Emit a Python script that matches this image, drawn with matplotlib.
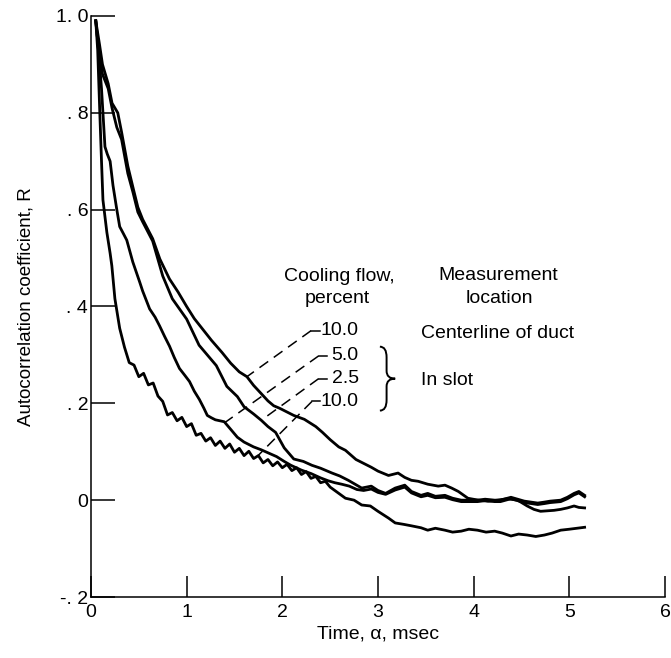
import numpy as np
import matplotlib
matplotlib.use("Agg")
import matplotlib.pyplot as plt
from matplotlib.path import Path
from matplotlib.patches import PathPatch

plt.rcParams['font.family'] = ['Liberation Sans', 'DejaVu Sans']

# autocorrelation traces (time in msec, coefficient R)
centerline_10 = np.array([
    (0.05, 0.99), (0.09, 0.94), (0.12, 0.90), (0.18, 0.86), (0.22, 0.82), (0.28, 0.80),
    (0.32, 0.76), (0.385, 0.69), (0.44, 0.645), (0.49, 0.605), (0.54, 0.58), (0.645, 0.54),
    (0.72, 0.498), (0.82, 0.457), (0.91, 0.43), (1.0, 0.40), (1.08, 0.375), (1.16, 0.355),
    (1.26, 0.33), (1.37, 0.305), (1.46, 0.283), (1.55, 0.265), (1.63, 0.255), (1.70, 0.237),
    (1.78, 0.22), (1.85, 0.205), (1.91, 0.195), (1.97, 0.19), (2.05, 0.182), (2.12, 0.175),
    (2.23, 0.167), (2.35, 0.152), (2.42, 0.14), (2.50, 0.125), (2.59, 0.11), (2.66, 0.103),
    (2.77, 0.084), (2.83, 0.078), (2.93, 0.068), (3.0, 0.06), (3.11, 0.051), (3.21, 0.056),
    (3.28, 0.047), (3.35, 0.041), (3.42, 0.039), (3.52, 0.033), (3.63, 0.029), (3.70, 0.031),
    (3.77, 0.025), (3.84, 0.018), (3.94, 0.004), (4.05, 0.0), (4.15, -0.002), (4.25, 0.0),
    (4.35, 0.003), (4.46, 0.0), (4.56, -0.012), (4.63, -0.019), (4.70, -0.023), (4.77, -0.022),
    (4.84, -0.021), (4.91, -0.019), (4.98, -0.016), (5.05, -0.012), (5.10, -0.015), (5.16, -0.016),
]).T

slot_5 = np.array([
    (0.05, 0.99), (0.07, 0.95), (0.09, 0.90), (0.11, 0.85), (0.125, 0.80), (0.146, 0.73),
    (0.17, 0.715), (0.20, 0.70), (0.23, 0.65), (0.27, 0.60), (0.30, 0.565), (0.34, 0.55),
    (0.374, 0.537), (0.437, 0.492), (0.51, 0.45), (0.54, 0.432), (0.613, 0.395), (0.67, 0.378),
    (0.717, 0.36), (0.77, 0.338), (0.821, 0.318), (0.87, 0.295), (0.925, 0.272), (0.98, 0.258),
    (1.03, 0.245), (1.08, 0.225), (1.133, 0.208), (1.18, 0.19), (1.216, 0.175), (1.26, 0.17),
    (1.30, 0.166), (1.393, 0.162), (1.466, 0.145), (1.53, 0.13), (1.60, 0.12), (1.70, 0.11),
    (1.78, 0.104), (1.86, 0.097), (1.94, 0.09), (2.02, 0.08), (2.09, 0.072), (2.2, 0.062),
    (2.3, 0.055), (2.4, 0.046), (2.48, 0.04), (2.55, 0.036), (2.62, 0.033), (2.70, 0.029),
    (2.78, 0.022), (2.85, 0.02), (2.93, 0.023), (3.0, 0.016), (3.08, 0.012), (3.18, 0.021),
    (3.28, 0.027), (3.35, 0.015), (3.45, 0.007), (3.52, 0.01), (3.60, 0.005), (3.70, 0.006),
    (3.78, 0.001), (3.87, -0.003), (3.97, -0.003), (4.04, -0.003), (4.12, -0.001), (4.22, -0.003),
    (4.28, -0.003), (4.39, 0.003), (4.46, -0.001), (4.53, -0.005), (4.60, -0.007), (4.67, -0.009),
    (4.74, -0.007), (4.80, -0.005), (4.91, -0.003), (4.98, 0.003), (5.05, 0.011), (5.10, 0.015),
    (5.16, 0.007),
]).T

slot_2_5 = np.array([
    (0.05, 0.99), (0.08, 0.93), (0.12, 0.88), (0.18, 0.85), (0.22, 0.81), (0.27, 0.77),
    (0.32, 0.745), (0.385, 0.675), (0.44, 0.635), (0.49, 0.595), (0.54, 0.575), (0.645, 0.535),
    (0.75, 0.463), (0.85, 0.416), (1.0, 0.374), (1.13, 0.32), (1.31, 0.278), (1.42, 0.235),
    (1.53, 0.214), (1.60, 0.193), (1.70, 0.178), (1.78, 0.165), (1.85, 0.152), (1.93, 0.14),
    (2.02, 0.108), (2.12, 0.085), (2.22, 0.08), (2.31, 0.072), (2.40, 0.066), (2.52, 0.056),
    (2.60, 0.05), (2.69, 0.041), (2.76, 0.033), (2.83, 0.025), (2.93, 0.029), (3.0, 0.02),
    (3.08, 0.014), (3.18, 0.025), (3.28, 0.031), (3.35, 0.018), (3.45, 0.01), (3.52, 0.014),
    (3.60, 0.008), (3.70, 0.01), (3.78, 0.004), (3.87, 0.0), (3.97, 0.0), (4.04, 0.0),
    (4.12, 0.002), (4.22, 0.0), (4.28, 0.0), (4.39, 0.006), (4.46, 0.002), (4.53, -0.002),
    (4.60, -0.004), (4.67, -0.006), (4.74, -0.004), (4.80, -0.002), (4.91, 0.0), (4.98, 0.006),
    (5.05, 0.014), (5.10, 0.018), (5.16, 0.01),
]).T

slot_10 = np.array([
    (0.05, 0.99), (0.07, 0.93), (0.094, 0.79), (0.11, 0.70), (0.125, 0.62), (0.166, 0.553),
    (0.20, 0.51), (0.218, 0.484), (0.25, 0.416), (0.30, 0.355), (0.35, 0.316), (0.40, 0.284),
    (0.45, 0.279), (0.50, 0.255), (0.55, 0.262), (0.60, 0.238), (0.65, 0.242), (0.70, 0.215),
    (0.75, 0.204), (0.80, 0.176), (0.85, 0.181), (0.90, 0.164), (0.95, 0.171), (1.00, 0.152),
    (1.05, 0.158), (1.10, 0.134), (1.15, 0.138), (1.20, 0.122), (1.25, 0.129), (1.30, 0.113),
    (1.35, 0.122), (1.40, 0.107), (1.45, 0.116), (1.50, 0.099), (1.55, 0.107), (1.60, 0.092),
    (1.65, 0.101), (1.70, 0.086), (1.75, 0.092), (1.80, 0.077), (1.85, 0.084), (1.90, 0.071),
    (1.95, 0.079), (2.00, 0.067), (2.05, 0.074), (2.10, 0.061), (2.15, 0.067), (2.20, 0.053),
    (2.25, 0.059), (2.30, 0.045), (2.35, 0.049), (2.40, 0.036), (2.45, 0.039), (2.50, 0.027),
    (2.66, 0.004), (2.75, 0.0), (2.83, -0.01), (2.92, -0.012), (3.0, -0.023), (3.11, -0.037),
    (3.18, -0.047), (3.27, -0.05), (3.35, -0.053), (3.45, -0.057), (3.52, -0.062), (3.60, -0.058),
    (3.70, -0.062), (3.78, -0.066), (3.87, -0.064), (3.95, -0.06), (4.04, -0.062), (4.13, -0.066),
    (4.22, -0.064), (4.30, -0.068), (4.39, -0.074), (4.47, -0.07), (4.56, -0.072), (4.65, -0.075),
    (4.74, -0.072), (4.82, -0.068), (4.91, -0.062), (5.0, -0.06), (5.08, -0.058), (5.16, -0.056),
]).T

flow_labels = ["10.0", "5.0", "2.5", "10.0"]
curves = [centerline_10, slot_5, slot_2_5, slot_10]
# time at which each leader meets its curve
leader_t = [1.63, 1.40, 1.78, 1.74]

y_ticks = [-0.2, 0, 0.2, 0.4, 0.6, 0.8, 1.0]
y_ticklabels = ["-. 2", "0", ". 2", ". 4", ". 6", ". 8", "1. 0"]
x_ticks = [0, 1, 2, 3, 4, 5, 6]

fig = plt.figure(figsize=(6.71, 6.58), dpi=100)
ax = fig.add_axes([0.1356, 0.0927, 0.8554, 0.883])

for t, r in curves:
    ax.plot(t, r, color="black", lw=2.0, solid_joinstyle="round")

ax.set_xlim(0, 6)
ax.set_ylim(-0.2, 1.0)
ax.set_xticks(x_ticks)
ax.set_yticks(y_ticks)
ax.set_yticklabels(y_ticklabels)
ax.tick_params(axis="y", direction="in", length=17, width=1.1, pad=2, labelsize=14)
ax.tick_params(axis="x", direction="in", length=15, width=1.1, pad=5, labelsize=14)
for side in ["top", "right"]:
    ax.spines[side].set_visible(False)
for side in ["left", "bottom"]:
    ax.spines[side].set_linewidth(1.1)

ax.set_xlabel("Time, α, msec", fontsize=14, labelpad=3)
ax.set_ylabel("Autocorrelation coefficient, R", fontsize=13.5)
ax.yaxis.set_label_coords(-0.098, 0.5)

# key text
fs = 14
ax.text(2.60, 0.461, "Cooling flow,", ha="center", va="center", fontsize=fs)
ax.text(2.57, 0.416, "percent", ha="center", va="center", fontsize=fs)
ax.text(4.26, 0.463, "Measurement", ha="center", va="center", fontsize=fs)
ax.text(4.27, 0.416, "location", ha="center", va="center", fontsize=fs)
ax.text(3.45, 0.344, "Centerline of duct", ha="left", va="center", fontsize=fs)
ax.text(3.45, 0.248, "In slot", ha="left", va="center", fontsize=fs)

# thin brace grouping the in-slot entries
bx0, bx1, bxt = 3.02, 3.09, 3.18
by0, by1, bym = 0.185, 0.317, 0.251
brace = Path(
    [(bx0, by1), (bx1, by1), (bx1, by1 - 0.022), (bx1, bym + 0.016),
     (bx1, bym), (bxt, bym), (bx1, bym), (bx1, bym - 0.016),
     (bx1, by0 + 0.022), (bx1, by0), (bx0, by0)],
    [Path.MOVETO, Path.CURVE3, Path.CURVE3, Path.LINETO,
     Path.CURVE3, Path.CURVE3, Path.CURVE3, Path.CURVE3,
     Path.LINETO, Path.CURVE3, Path.CURVE3])
ax.add_patch(PathPatch(brace, facecolor="none", edgecolor="black", lw=1.4))

label_y = [0.350, 0.298, 0.251, 0.204]
stub_x = [(2.39, 2.30), (2.47, 2.38), (2.47, 2.38), (2.39, 2.31)]
for lab, ly, (sx0, sx1), (t, r), lt in zip(flow_labels, label_y, stub_x, curves, leader_t):
    ax.text(2.80, ly, lab, ha="right", va="center", fontsize=fs)
    ax.plot([sx0, sx1], [ly, ly], color="black", lw=1.1)
    ax.plot([sx1, lt], [ly, np.interp(lt, t, r)], color="black", lw=1.1,
            linestyle=(0, (7, 4.5)))

fig.savefig("out.png", dpi=100)
